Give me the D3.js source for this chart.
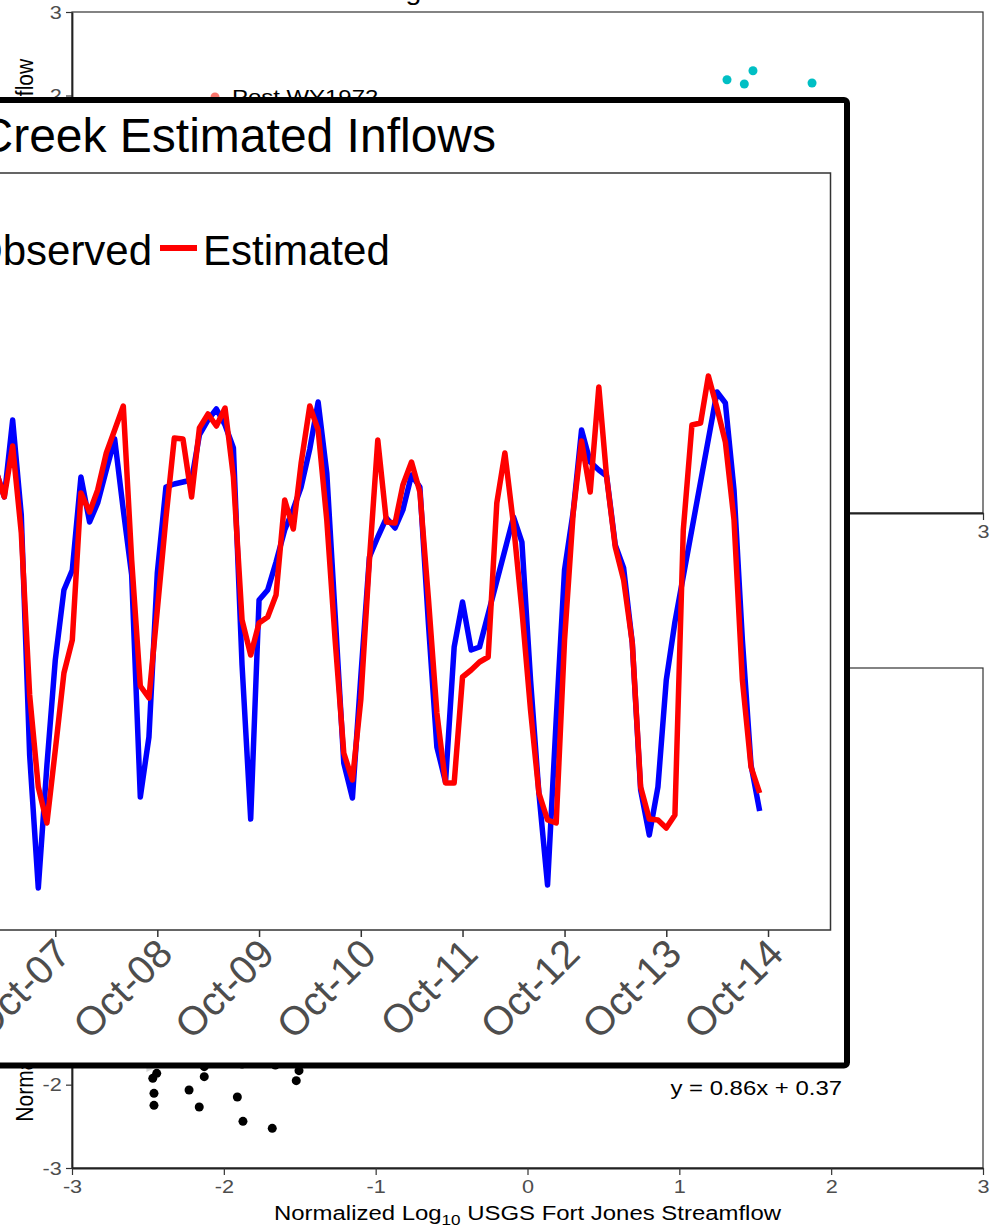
<!DOCTYPE html>
<html>
<head>
<meta charset="utf-8">
<script src="https://cdn.jsdelivr.net/npm/d3@7"></script>
<style>
body { margin: 0; background: #fff; }
svg { display: block; font-family: "Liberation Sans", Arial, sans-serif; }
</style>
</head>
<body>
<svg id="chart"></svg>
<script>
// background scatter (normalized log10 flows)
var preX = [1.314, 1.428, 1.485, 1.874];
var preY = [2.189, 2.138, 2.297, 2.150];
var fjX = [-2.468, -2.460, -2.460, -2.442, -2.229, -2.162, -2.129, -2.129, -1.911, -1.874, -1.681, -1.523, -1.505, -1.661, -1.880];
var creekY = [-1.924, -2.104, -2.248, -1.864, -2.064, -2.268, -1.904, -1.784, -2.148, -2.440, -2.524, -1.952, -1.832, -1.764, -1.752];
var fitSlope = 0.86, fitIntercept = 0.37;
var fitRange = [-2.51, 1.95];
var scatterTicks = [-3, -2, -1, 0, 1, 2, 3];
var groups = ['Post WY1972', 'Pre WY1972'];

// popup: monthly inflows, Mar 2007 - Sep 2014 (log10 units)
var recordStart = new Date(2000, 9, 1), recordEnd = new Date(2014, 8, 1);
var months = d3.timeMonth.range(new Date(2007, 2, 1), new Date(2014, 9, 1));
var observed = [
  3.30, 3.165, 3.55, 3.075, 1.875, 1.21, 1.825,
  2.35, 2.70, 2.80, 3.265, 3.04, 3.135, 3.30, 3.455, 3.10, 2.775, 1.665, 1.965,
  2.785, 3.215, 3.23, 3.24, 3.25, 3.475, 3.55, 3.605, 3.525, 3.41, 2.325, 1.555,
  2.65, 2.70, 2.84, 3.00, 3.105, 3.215, 3.405, 3.64, 3.285, 2.575, 1.835, 1.66,
  2.265, 2.865, 2.965, 3.06, 3.01, 3.10, 3.275, 3.215, 2.525, 1.915, 1.74, 2.415,
  2.64, 2.40, 2.415, null, null, null, 3.065, 2.94, 2.25, 1.685, 1.225, 2.05,
  2.80, 3.09, 3.50, 3.34, 3.30, 3.27, 2.925, 2.81, 2.435, 1.70, 1.475, 1.715,
  2.25, 2.54, null, null, null, null, 3.69, 3.635, 3.20, 2.45, 1.825, 1.595
];
var estimated = [
  3.30, 3.165, 3.42, 2.985, 2.175, 1.715, 1.535,
  1.90, 2.285, 2.45, 3.185, 3.09, 3.20, 3.385, 3.50, 3.62, 2.85, 2.22, 2.16,
  2.60, 3.06, 3.46, 3.455, 3.165, 3.51, 3.58, 3.52, 3.61, 3.265, 2.55, 2.375,
  2.535, 2.565, 2.675, 3.15, 3.005, 3.335, 3.62, 3.50, 3.05, 2.45, 1.885, 1.75,
  2.15, 2.85, 3.45, 3.04, 3.035, 3.225, 3.34, 3.19, 2.65, 2.085, 1.735, 1.735,
  2.265, 2.30, 2.34, 2.365, 3.135, 3.385, 3.025, 2.60, 2.10, 1.685, 1.55, 1.535,
  2.45, 3.085, 3.445, 3.19, 3.715, 3.265, 2.915, 2.75, 2.435, 1.715, 1.555, 1.55,
  1.51, 1.575, 3.00, 3.525, 3.535, 3.77, 3.61, 3.44, 3.05, 2.25, 1.815, 1.685
];
var seriesNames = ['Observed', 'Estimated'];
var seriesColors = ['#0000ff', '#ff0000'];

var svg = d3.select('#chart').attr('width', 990).attr('height', 1232);
var STRETCH = 'scale(1.14,1)'; // background image is horizontally stretched

// ---------- background panels ----------
var x = d3.scaleLinear().domain([-3, 3]).range([72, 983]);
var yTop = d3.scaleLinear().domain([-3, 3]).range([513, 12]);
var yBot = d3.scaleLinear().domain([-3, 3]).range([1168, 668]);

function panel(y) {
    var g = svg.append('g');
    g.append('rect')
        .attr('x', x.range()[0]).attr('y', y.range()[1])
        .attr('width', x.range()[1] - x.range()[0])
        .attr('height', y.range()[0] - y.range()[1])
        .attr('fill', '#fff').attr('stroke', '#333').attr('stroke-width', 1.2);

    var fmt = function (d) { return String(d); };
    var ax = g.append('g')
        .attr('transform', 'translate(0,' + y.range()[0] + ')')
        .call(d3.axisBottom(x).tickValues(scatterTicks).tickFormat(fmt).tickSize(7).tickPadding(5).tickSizeOuter(0));
    var ay = g.append('g')
        .attr('transform', 'translate(' + x.range()[0] + ',0)')
        .call(d3.axisLeft(y).tickValues(scatterTicks).tickFormat(fmt).tickSize(6).tickPadding(3).tickSizeOuter(0));
    [ax, ay].forEach(function (a) {
        a.select('.domain').attr('stroke', '#222').attr('stroke-width', 1.8);
        a.selectAll('.tick line').attr('stroke', '#333').attr('stroke-width', 1.2);
        a.selectAll('.tick text')
            .attr('fill', '#4d4d4d')
            .attr('font-size', 19)
            .attr('font-family', '"Liberation Sans", Arial, sans-serif')
            .attr('transform', STRETCH);
    });
    return g;
}

function yTitle(g, y) {
    var cy = (y.range()[0] + y.range()[1]) / 2;
    var t = g.append('text')
        .attr('transform', 'translate(33,' + cy + ') ' + STRETCH + ' rotate(-90)')
        .attr('text-anchor', 'middle').attr('font-size', 21).attr('fill', '#000');
    t.append('tspan').text('Normalized Log');
    t.append('tspan').attr('font-size', 15).attr('dy', 5).text('10');
    t.append('tspan').attr('dy', -5).text(' French Creek Streamflow');
}

// top panel
var topPanel = panel(yTop);
topPanel.append('text')
    .attr('transform', 'translate(369,0) ' + STRETCH)
    .attr('font-size', 25).attr('fill', '#000')
    .text('Regression of Normalized Flows');
yTitle(topPanel, yTop);
topPanel.selectAll('circle.pre')
    .data(preX)
    .enter().append('circle')
    .attr('cx', function (d) { return x(d); })
    .attr('cy', function (d, i) { return yTop(preY[i]); })
    .attr('r', 4.5)
    .attr('fill', '#00bfc4');
var leg = topPanel.selectAll('g.leg')
    .data(groups)
    .enter().append('g')
    .attr('transform', function (d, i) { return 'translate(215,' + (97 + i * 26) + ')'; });
leg.append('circle').attr('r', 4.5).attr('fill', function (d, i) { return i ? '#00bfc4' : '#f8766d'; });
leg.append('text')
    .attr('transform', 'translate(17,7) ' + STRETCH)
    .attr('font-size', 21).attr('fill', '#000')
    .text(function (d) { return d; });

// bottom panel
var botPanel = panel(yBot);
yTitle(botPanel, yBot);
var xt = botPanel.append('text')
    .attr('transform', 'translate(527.5,1220) ' + STRETCH)
    .attr('text-anchor', 'middle').attr('font-size', 21).attr('fill', '#000');
xt.append('tspan').text('Normalized Log');
xt.append('tspan').attr('font-size', 15).attr('dy', 5).text('10');
xt.append('tspan').attr('dy', -5).text(' USGS Fort Jones Streamflow');

var fitX = d3.range(fitRange[0], fitRange[1] + 0.001, (fitRange[1] - fitRange[0]) / 40);
botPanel.append('path')
    .datum(fitX)
    .attr('fill', '#999').attr('fill-opacity', 0.4)
    .attr('d', d3.area()
        .x(function (d) { return x(d); })
        .y0(function (d) { return yBot(fitSlope * d + fitIntercept - 0.06); })
        .y1(function (d) { return yBot(fitSlope * d + fitIntercept + 0.06); }));
botPanel.append('path')
    .datum(fitX)
    .attr('fill', 'none').attr('stroke', '#3366ff').attr('stroke-width', 2.5)
    .attr('d', d3.line()
        .x(function (d) { return x(d); })
        .y(function (d) { return yBot(fitSlope * d + fitIntercept); }));
botPanel.selectAll('circle.fj')
    .data(fjX)
    .enter().append('circle')
    .attr('cx', function (d) { return x(d); })
    .attr('cy', function (d, i) { return yBot(creekY[i]); })
    .attr('r', 4.5)
    .attr('fill', '#000');
botPanel.append('text')
    .attr('transform', 'translate(842,1095) ' + STRETCH)
    .attr('text-anchor', 'end').attr('font-size', 21).attr('fill', '#000')
    .text('y = ' + fitSlope + 'x + ' + fitIntercept);

// ---------- popup: time series ----------
var pop = svg.append('g');
pop.append('rect')
    .attr('x', -900).attr('y', 100)
    .attr('width', 1747).attr('height', 965.5)
    .attr('rx', 3)
    .attr('fill', '#fff').attr('stroke', '#000').attr('stroke-width', 6);

pop.append('text')
    .attr('x', 496).attr('y', 152)
    .attr('text-anchor', 'end').attr('font-size', 48).attr('fill', '#000')
    .text('French Creek Estimated Inflows');

var pad = (recordEnd - recordStart) * 0.05;
var tx = d3.scaleTime()
    .domain([new Date(+recordStart - pad), new Date(+recordEnd + pad)])
    .range([-728, 830.5]);
var ty = d3.scaleLinear().domain([1.0, 4.785]).range([930, 173]);

pop.append('rect')
    .attr('x', tx.range()[0]).attr('y', ty.range()[1])
    .attr('width', tx.range()[1] - tx.range()[0])
    .attr('height', ty.range()[0] - ty.range()[1])
    .attr('fill', 'none').attr('stroke', '#333').attr('stroke-width', 1.5);

var octTicks = d3.range(2001, 2015).map(function (yr) { return new Date(yr, 9, 1); });
var axT = pop.append('g')
    .attr('transform', 'translate(0,930)')
    .call(d3.axisBottom(tx).tickValues(octTicks).tickFormat(d3.timeFormat('%b-%y')).tickSize(7).tickSizeOuter(0));
axT.select('.domain').remove();
axT.selectAll('.tick line').attr('stroke', '#333').attr('stroke-width', 1.5);
axT.selectAll('.tick text')
    .attr('x', 0).attr('y', 0).attr('dy', 0)
    .attr('transform', 'translate(17,26) rotate(-45)')
    .attr('text-anchor', 'end')
    .attr('fill', '#4d4d4d')
    .attr('font-size', 40)
    .attr('font-family', '"Liberation Sans", Arial, sans-serif');

var line = d3.line()
    .x(function (d) { return tx(d[0]); })
    .y(function (d) { return ty(d[1]); });
[observed, estimated].forEach(function (vals, k) {
    var pts = months.map(function (m, i) { return [m, vals[i]]; })
        .filter(function (d) { return d[1] != null; });
    pop.append('path')
        .datum(pts)
        .attr('fill', 'none')
        .attr('stroke', seriesColors[k])
        .attr('stroke-width', 5.5)
        .attr('stroke-linejoin', 'round')
        .attr('d', line);
});

// legend
var lx = [-73, 160];
var lg = pop.selectAll('g.key')
    .data(seriesNames)
    .enter().append('g')
    .attr('transform', function (d, i) { return 'translate(' + lx[i] + ',248)'; });
lg.append('line')
    .attr('x1', 0).attr('x2', 37)
    .attr('stroke', function (d, i) { return seriesColors[i]; })
    .attr('stroke-width', 6);
lg.append('text')
    .attr('x', 43).attr('y', 17)
    .attr('font-size', 42).attr('fill', '#000')
    .text(function (d) { return d; });
</script>
</body>
</html>
